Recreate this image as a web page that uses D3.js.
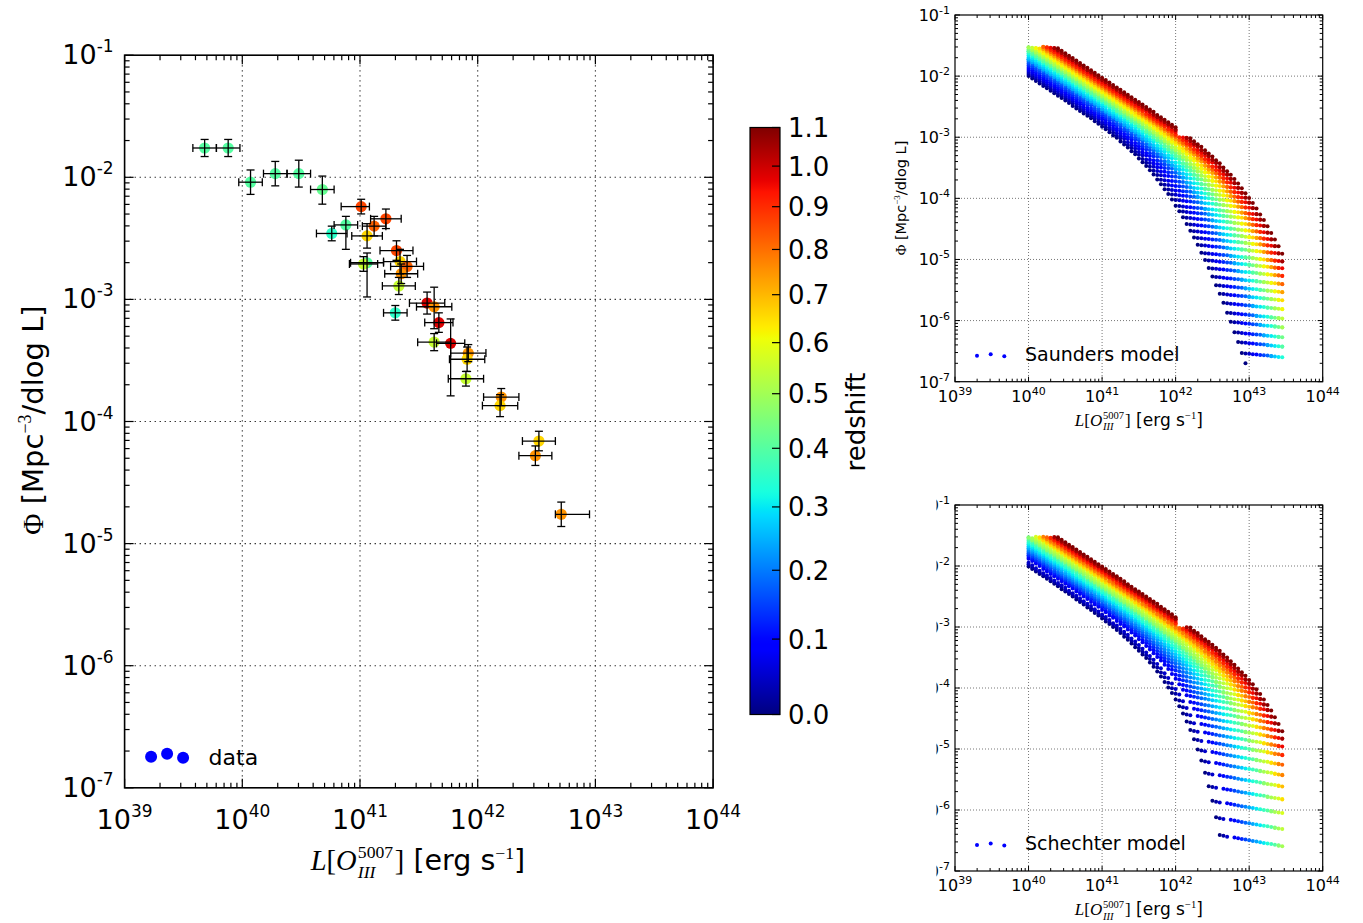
<!DOCTYPE html>
<html><head><meta charset="utf-8">
<script src="https://cdn.jsdelivr.net/npm/d3@7"></script>
<style>
body{margin:0;background:#fff}
svg{display:block}
text{font-family:"DejaVu Sans",sans-serif;fill:#000}
</style></head>
<body><svg id="c" width="1363" height="923"></svg>
<script>
// ---------------- DATA ----------------
// observed luminosity function points (log10 L, log10 Phi), redshift colour, error bars in dex
const obsLogL   = [39.68,39.88,40.07,40.28,40.48,40.68,41.01,41.22,41.12,40.88,40.76,41.06,41.31,41.06,41.03,41.34,41.40,41.35,41.33,41.30,41.57,41.63,41.67,41.63,41.77,41.92,41.91,41.90,42.20,42.19,42.52,42.49,42.71];
const obsLogPhi = [-1.76,-1.76,-2.04,-1.97,-1.97,-2.10,-2.24,-2.34,-2.40,-2.39,-2.46,-2.48,-2.60,-2.70,-2.71,-2.69,-2.73,-2.79,-2.89,-3.11,-3.03,-3.06,-3.19,-3.35,-3.36,-3.44,-3.49,-3.65,-3.80,-3.87,-4.16,-4.28,-4.76];
const obsRedshift = [0.40,0.40,0.40,0.40,0.40,0.42,0.86,0.86,0.82,0.40,0.35,0.66,0.86,0.40,0.55,0.66,0.82,0.75,0.55,0.35,0.98,0.75,0.98,0.55,0.98,0.75,0.66,0.55,0.75,0.66,0.66,0.75,0.75];
const obsXErrLo = [0.10,0.10,0.10,0.10,0.10,0.10,0.17,0.13,0.10,0.10,0.13,0.13,0.14,0.14,0.12,0.14,0.14,0.14,0.14,0.10,0.15,0.15,0.12,0.14,0.12,0.15,0.15,0.15,0.15,0.15,0.14,0.14,0.05];
const obsXErrHi = [0.10,0.10,0.10,0.10,0.10,0.10,0.07,0.13,0.10,0.10,0.13,0.13,0.14,0.14,0.12,0.14,0.14,0.14,0.14,0.10,0.15,0.15,0.12,0.14,0.12,0.15,0.15,0.15,0.15,0.15,0.14,0.14,0.24];
const obsYErrLo = [0.07,0.07,0.10,0.10,0.11,0.12,0.06,0.08,0.08,0.20,0.06,0.10,0.08,0.28,0.06,0.10,0.09,0.08,0.07,0.06,0.09,0.18,0.08,0.07,0.43,0.07,0.10,0.06,0.07,0.09,0.08,0.08,0.10];
const obsYErrHi = [0.07,0.07,0.10,0.10,0.11,0.11,0.06,0.08,0.08,0.07,0.06,0.10,0.08,0.08,0.06,0.10,0.09,0.08,0.07,0.06,0.09,0.16,0.08,0.07,0.20,0.07,0.10,0.06,0.07,0.09,0.08,0.08,0.10];

// axes ticks
const xTickExps = [39,40,41,42,43,44];
const yTickExps = [-1,-2,-3,-4,-5,-6,-7];
const cbarTicks = [0.0,0.1,0.2,0.3,0.4,0.5,0.6,0.7,0.8,0.9,1.0,1.1];
const cbarMaxZ = 1.1;

// model grids: z=0 curve on a 0.05 dex grid, then per-redshift evolution shifts (dex)
const modelRedshifts = [0.000,0.035,0.071,0.106,0.142,0.177,0.213,0.248,0.284,0.319,0.355,0.390,0.426,0.461,0.497,0.532,0.568,0.603,0.639,0.674,0.710,0.745,0.781,0.816,0.852,0.887,0.923,0.958,0.994,1.029,1.065,1.100];
const modelBaseLogL = [38.65,38.70,38.75,38.80,38.85,38.90,38.95,39.00,39.05,39.10,39.15,39.20,39.25,39.30,39.35,39.40,39.45,39.50,39.55,39.60,39.65,39.70,39.75,39.80,39.85,39.90,39.95,
 40.00,40.05,40.10,40.15,40.20,40.25,40.30,40.35,40.40,40.45,40.50,40.55,40.60,40.65,40.70,40.75,40.80,40.85,40.90,40.95,
 41.00,41.05,41.10,41.15,41.20,41.25,41.30,41.35,41.40,41.45,41.50,41.55,41.60,41.65,41.70,41.75,41.80,41.85,41.90,41.95,
 42.00,42.05,42.10,42.15,42.20,42.25,42.30,42.35,42.40,42.45,42.50,42.55,42.60,42.65,42.70,42.75,42.80,42.85,42.90,42.95];
const saundersBaseLogPhi = [-0.92,-0.96,-1.00,-1.04,-1.08,-1.12,-1.16,-1.20,-1.24,-1.28,-1.32,-1.36,-1.40,-1.44,-1.48,-1.52,-1.56,-1.60,-1.64,-1.68,-1.72,-1.76,-1.80,-1.84,-1.88,-1.92,-1.96,
 -2.00,-2.04,-2.08,-2.12,-2.16,-2.20,-2.24,-2.28,-2.32,-2.36,-2.40,-2.44,-2.49,-2.53,-2.57,-2.61,-2.65,-2.69,-2.74,-2.78,
 -2.83,-2.87,-2.92,-2.97,-3.01,-3.07,-3.12,-3.17,-3.23,-3.28,-3.35,-3.41,-3.47,-3.54,-3.61,-3.69,-3.77,-3.85,-3.93,-4.02,
 -4.12,-4.21,-4.31,-4.42,-4.53,-4.64,-4.76,-4.89,-5.01,-5.14,-5.28,-5.42,-5.56,-5.71,-5.87,-6.02,-6.19,-6.35,-6.53,-6.70];
const schechterBaseLogPhi = [-0.92,-0.96,-1.00,-1.04,-1.08,-1.12,-1.16,-1.20,-1.24,-1.28,-1.32,-1.36,-1.40,-1.44,-1.48,-1.52,-1.56,-1.60,-1.64,-1.68,-1.72,-1.76,-1.80,-1.84,-1.88,-1.92,-1.96,
 -2.01,-2.05,-2.09,-2.13,-2.17,-2.21,-2.25,-2.29,-2.33,-2.38,-2.42,-2.46,-2.50,-2.55,-2.59,-2.63,-2.68,-2.72,-2.77,-2.81,
 -2.86,-2.91,-2.95,-3.00,-3.05,-3.10,-3.16,-3.21,-3.27,-3.33,-3.39,-3.45,-3.51,-3.58,-3.65,-3.73,-3.81,-3.90,-3.99,-4.08,
 -4.19,-4.30,-4.42,-4.55,-4.69,-4.84,-5.01,-5.19,-5.39,-5.61,-5.85,-6.12,-6.41,-6.74];
const saundersLumShift  = [0,0.05,0.10,0.15,0.20,0.25,0.30,0.35,0.40,0.40,0.45,0.50,0.55,0.60,0.60,0.65,0.70,0.70,0.75,0.80,0.80,0.85,0.90,0.90,0.95,0.95,1.00,1.00,1.05,1.10,1.10,1.15];
const saundersDensShift = [0,-0.007,-0.013,-0.020,-0.026,-0.032,-0.038,-0.043,-0.049,-0.054,-0.059,-0.064,-0.069,-0.074,-0.079,-0.083,-0.088,-0.092,-0.097,-0.101,-0.105,-0.109,-0.113,-0.117,-0.120,-0.124,-0.128,-0.131,-0.135,-0.138,-0.142,-0.145];
const schechterLumShift  = [0,0.05,0.10,0.20,0.25,0.30,0.35,0.40,0.45,0.50,0.55,0.60,0.65,0.70,0.75,0.80,0.80,0.85,0.90,0.95,1.00,1.00,1.05,1.10,1.10,1.15,1.20,1.20,1.25,1.30,1.30,1.35];
const schechterDensShift = [0,-0.014,-0.027,-0.040,-0.052,-0.064,-0.075,-0.087,-0.098,-0.108,-0.119,-0.129,-0.139,-0.148,-0.158,-0.167,-0.176,-0.184,-0.193,-0.201,-0.210,-0.218,-0.226,-0.233,-0.241,-0.248,-0.256,-0.263,-0.270,-0.277,-0.283,-0.290];
const modelLogLRange = [40.00, 43.45];
const modelLogPhiRange = [-6.70, -1.52];
const modelBandCap = [42.05, 42.30, -3.00];   // logL from, logL to, max logPhi

// ---------------- HELPERS ----------------
const svg = d3.select("#c");
const SERIF = "'Liberation Serif','DejaVu Serif',serif";
const jetR = d3.scaleLinear().domain([0,0.35,0.66,0.89,1]).range([0,0,1,1,0.5]).clamp(true);
const jetG = d3.scaleLinear().domain([0,0.125,0.375,0.64,0.91,1]).range([0,0,1,1,0,0]).clamp(true);
const jetB = d3.scaleLinear().domain([0,0.11,0.34,0.65,1]).range([0.5,1,1,0,0]).clamp(true);
const jet = t => d3.rgb(jetR(t)*255, jetG(t)*255, jetB(t)*255).formatHex();
const p10 = v => Math.pow(10, v);

function sciLabel(g, x, y, exp, fs, sfs, rise, anchor){
  const t = g.append("text").attr("x",x).attr("y",y).attr("text-anchor",anchor).style("font-size",fs+"px");
  t.append("tspan").text("10");
  t.append("tspan").attr("dy",-rise).style("font-size",sfs+"px").text(exp);
  return t;
}

function mathXLabel(parent, cx, baseline, F){
  const g = parent.append("g");
  let x = 0;
  function piece(txt, fam, style, size, dy){
    const t = g.append("text").attr("x",x).attr("y",dy).style("font-family",fam)
      .style("font-style",style).style("font-size",size+"px").style("white-space","pre").text(txt);
    return t.node().getComputedTextLength();
  }
  x += piece("L", SERIF, "italic", F, 0);
  x += piece("[", SERIF, "normal", F, 0);
  x += piece("O", SERIF, "italic", F, 0) + F*0.04;
  const w1 = piece("5007", SERIF, "normal", F*0.62, -F*0.42);
  const w2 = piece("III", SERIF, "italic", F*0.62, F*0.28);
  x += Math.max(w1, w2) + F*0.06;
  x += piece("]", SERIF, "normal", F, 0);
  x += piece(" [erg s", "DejaVu Sans", "normal", F, 0);
  x += piece("\u22121", SERIF, "normal", F*0.62, -F*0.4);
  x += piece("]", "DejaVu Sans", "normal", F, 0);
  g.attr("transform", `translate(${cx - x/2},${baseline})`);
}

function phiYLabel(parent, x, cy, F){
  const t = parent.append("text").attr("transform",`translate(${x},${cy}) rotate(-90)`)
    .attr("text-anchor","middle").style("font-size",F+"px").style("white-space","pre");
  t.append("tspan").style("font-family",SERIF).text("\u03A6");
  t.append("tspan").text(" [Mpc");
  t.append("tspan").attr("dy",-F*0.4).style("font-family",SERIF).style("font-size",(F*0.62)+"px").text("\u22123");
  t.append("tspan").attr("dy",F*0.4).text("/dlog L]");
}

function drawFrame(g, x, y, c){
  const gx = xTickExps.slice(1,-1), gy = yTickExps.slice(1,-1);
  g.append("g").selectAll("line").data(gx).join("line")
    .attr("x1",d=>x(p10(d))).attr("x2",d=>x(p10(d))).attr("y1",c.top).attr("y2",c.bottom)
    .attr("stroke",c.gridColor).attr("stroke-width",c.gridW).attr("stroke-dasharray",c.gridDash);
  g.append("g").selectAll("line").data(gy).join("line")
    .attr("y1",d=>y(p10(d))).attr("y2",d=>y(p10(d))).attr("x1",c.left).attr("x2",c.right)
    .attr("stroke",c.gridColor).attr("stroke-width",c.gridW).attr("stroke-dasharray",c.gridDash);
}

function drawTicks(g, x, y, c){
  const isMajor = v => Math.abs(Math.log10(v) - Math.round(Math.log10(v))) < 1e-6;
  const xt = x.ticks(), yt = y.ticks();
  const tk = g.append("g").attr("stroke","#000").attr("stroke-width",c.tickW);
  xt.forEach(v=>{
    const L = isMajor(v) ? c.major : c.minor, px = x(v);
    tk.append("line").attr("x1",px).attr("x2",px).attr("y1",c.bottom).attr("y2",c.bottom-L);
    tk.append("line").attr("x1",px).attr("x2",px).attr("y1",c.top).attr("y2",c.top+L);
  });
  yt.forEach(v=>{
    const L = isMajor(v) ? c.major : c.minor, py = y(v);
    tk.append("line").attr("y1",py).attr("y2",py).attr("x1",c.left).attr("x2",c.left+L);
    tk.append("line").attr("y1",py).attr("y2",py).attr("x1",c.right).attr("x2",c.right-L);
  });
  g.append("rect").attr("x",c.left).attr("y",c.top).attr("width",c.right-c.left).attr("height",c.bottom-c.top)
    .attr("fill","none").attr("stroke","#000").attr("stroke-width",c.frameW);
}

function drawTickLabels(g, x, y, c){
  xTickExps.forEach(e => sciLabel(g, x(p10(e)), c.bottom + c.xLabDy, String(e), c.fs, c.sfs, c.rise, "middle"));
  yTickExps.forEach(e => sciLabel(g, c.left - c.yLabDx, y(p10(e)) + c.yLabDy, String(e), c.fs, c.sfs, c.rise, "end"));
}

// ---------------- MAIN PANEL ----------------
const M = {left:124.6, right:713.1, top:55.2, bottom:787.8, gridColor:"#222", gridW:1.1, gridDash:"1.3,3.7",
           tickW:1.2, major:9, minor:5, frameW:1.6, fs:27, sfs:17, rise:12, xLabDy:41, yLabDx:11, yLabDy:9};
const mx = d3.scaleLog().domain([p10(xTickExps[0]), p10(xTickExps[xTickExps.length-1])]).range([M.left, M.right]);
const my = d3.scaleLog().domain([p10(yTickExps[yTickExps.length-1]), p10(yTickExps[0])]).range([M.bottom, M.top]);
const zNorm = d3.scaleLinear().domain([0, Math.log10(1+cbarMaxZ)]).range([0,1]);
const zColor = z => jet(zNorm(Math.log10(1+z)));

const gMain = svg.append("g");
drawFrame(gMain, mx, my, M);
const obs = obsLogL.map((L,i)=>({L, P:obsLogPhi[i], z:obsRedshift[i], xl:obsXErrLo[i], xh:obsXErrHi[i], yl:obsYErrLo[i], yh:obsYErrHi[i]}));
gMain.append("g").selectAll("circle").data(obs).join("circle")
  .attr("cx",d=>mx(p10(d.L))).attr("cy",d=>my(p10(d.P))).attr("r",5.6).attr("fill",d=>zColor(d.z));
const eb = gMain.append("g").attr("stroke","#000").attr("stroke-width",1.3).attr("fill","none");
const cap = 4;
obs.forEach(d=>{
  const cx = mx(p10(d.L)), cy = my(p10(d.P));
  const x0 = mx(p10(d.L-d.xl)), x1 = mx(p10(d.L+d.xh));
  const y0 = my(p10(d.P-d.yl)), y1 = my(p10(d.P+d.yh));
  eb.append("line").attr("x1",x0).attr("x2",x1).attr("y1",cy).attr("y2",cy);
  eb.append("line").attr("x1",cx).attr("x2",cx).attr("y1",y0).attr("y2",y1);
  eb.append("line").attr("x1",x0).attr("x2",x0).attr("y1",cy-cap).attr("y2",cy+cap);
  eb.append("line").attr("x1",x1).attr("x2",x1).attr("y1",cy-cap).attr("y2",cy+cap);
  eb.append("line").attr("x1",cx-cap).attr("x2",cx+cap).attr("y1",y0).attr("y2",y0);
  eb.append("line").attr("x1",cx-cap).attr("x2",cx+cap).attr("y1",y1).attr("y2",y1);
});
drawTicks(gMain, mx, my, M);
drawTickLabels(gMain, mx, my, M);
// legend
const lg = gMain.append("g").attr("transform",`translate(${M.left},${M.bottom})`);
[[26.5,-31],[42.5,-34],[58.5,-30]].forEach(p=>lg.append("circle").attr("cx",p[0]).attr("cy",p[1]).attr("r",6).attr("fill","#0000ff"));
lg.append("text").attr("x",84).attr("y",-23).style("font-size","22px").text("data");
mathXLabel(svg, 418, 870, 28.5);
phiYLabel(svg, 43, 420, 29);

// ---------------- COLORBAR ----------------
const CB = {left:750, right:780, top:127.5, bottom:714.5};
const cbY = d3.scaleLinear().domain([0, Math.log10(1+cbarMaxZ)]).range([CB.bottom, CB.top]);
const defs = svg.append("defs");
const grad = defs.append("linearGradient").attr("id","jetgrad").attr("x1",0).attr("y1",1).attr("x2",0).attr("y2",0);
d3.range(0,1.0001,0.01).forEach(t=>grad.append("stop").attr("offset",t).attr("stop-color",jet(t)));
svg.append("rect").attr("x",CB.left).attr("y",CB.top).attr("width",CB.right-CB.left).attr("height",CB.bottom-CB.top)
  .attr("fill","url(#jetgrad)").attr("stroke","#000").attr("stroke-width",1.2);
const cbg = svg.append("g");
cbarTicks.forEach(z=>{
  const py = cbY(Math.log10(1+z));
  cbg.append("line").attr("x1",CB.right-8).attr("x2",CB.right).attr("y1",py).attr("y2",py).attr("stroke","#000").attr("stroke-width",1.2);
  cbg.append("text").attr("x",CB.right+8).attr("y",py+9.5).style("font-size","26px").text(z.toFixed(1));
});
svg.append("text").attr("transform",`translate(865,422) rotate(-90)`).attr("text-anchor","middle").style("font-size","26px").text("redshift");

// ---------------- MODEL PANELS ----------------
function modelPanel(c, basePhi, lumShift, densShift, name, clipLabels){
  const x = d3.scaleLog().domain([p10(xTickExps[0]), p10(xTickExps[xTickExps.length-1])]).range([c.left, c.right]);
  const y = d3.scaleLog().domain([p10(yTickExps[yTickExps.length-1]), p10(yTickExps[0])]).range([c.bottom, c.top]);
  const g = svg.append("g");
  drawFrame(g, x, y, c);
  const pts = [];
  modelRedshifts.forEach((z,k)=>{
    basePhi.forEach((p,i)=>{
      const L = Math.round((modelBaseLogL[i] + lumShift[k])*100)/100;
      const v = p + densShift[k];
      if (L < modelLogLRange[0]-1e-6 || L > modelLogLRange[1]+1e-6) return;
      if (v > modelLogPhiRange[1] || v < modelLogPhiRange[0]) return;
      if (L >= modelBandCap[0]-1e-6 && L <= modelBandCap[1]+1e-6 && v > modelBandCap[2]) return;
      pts.push({L, v, z});
    });
  });
  g.append("g").selectAll("circle").data(pts).join("circle")
    .attr("cx",d=>x(p10(d.L))).attr("cy",d=>y(p10(d.v))).attr("r",2.0).attr("fill",d=>jet(d.z/modelRedshifts[modelRedshifts.length-1]));
  drawTicks(g, x, y, c);
  const lab = g.append("g");
  if (clipLabels){
    const id = "clip"+name.replace(/\W/g,"");
    defs.append("clipPath").attr("id",id).append("rect").attr("x",c.labClipX).attr("y",c.top-20).attr("width",100).attr("height",c.bottom-c.top+40);
    const yl = g.append("g").attr("clip-path",`url(#${id})`);
    yTickExps.forEach(e => sciLabel(yl, c.left - c.yLabDx, y(p10(e)) + c.yLabDy, String(e), c.fs, c.sfs, c.rise, "end"));
    xTickExps.forEach(e => sciLabel(lab, x(p10(e)), c.bottom + c.xLabDy, String(e), c.fs, c.sfs, c.rise, "middle"));
  } else {
    drawTickLabels(lab, x, y, c);
  }
  const lg = g.append("g").attr("transform",`translate(${c.left},${c.bottom})`);
  [[22,-26],[35.7,-27.5],[49.3,-25.5]].forEach(p=>lg.append("circle").attr("cx",p[0]).attr("cy",p[1]).attr("r",2).attr("fill","#0000ff"));
  lg.append("text").attr("x",70).attr("y",-21).style("font-size","19px").text(name);
  mathXLabel(svg, (c.left+c.right)/2, c.bottom + 44, 17);
}
const S1 = {left:955, right:1322.7, top:15, bottom:381.7, gridColor:"#777", gridW:1, gridDash:"1,2",
            tickW:1, major:5, minor:3, frameW:1.2, fs:16, sfs:11, rise:7, xLabDy:20, yLabDx:5, yLabDy:6};
const S2 = Object.assign({}, S1, {top:505, bottom:871, labClipX:936.5});
modelPanel(S1, saundersBaseLogPhi, saundersLumShift, saundersDensShift, "Saunders model", false);
modelPanel(S2, schechterBaseLogPhi, schechterLumShift, schechterDensShift, "Schechter model", true);
phiYLabel(svg, 906, 198, 14.5);
</script></body></html>
